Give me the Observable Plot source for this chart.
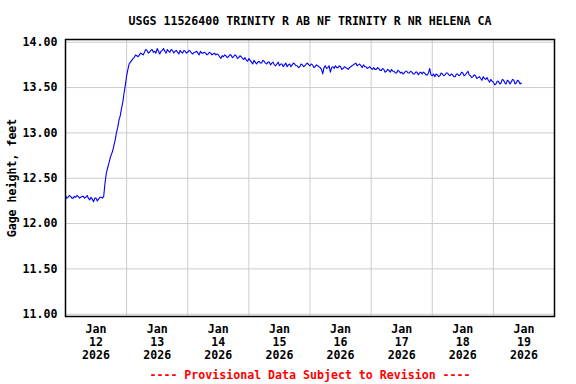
<!DOCTYPE html>
<html><head><meta charset="utf-8">
<script src="https://cdn.jsdelivr.net/npm/d3@7"></script>
<script src="https://cdn.jsdelivr.net/npm/@observablehq/plot@0.6"></script>
<style>body{margin:0;background:#fff} svg{display:block}</style>
</head><body><div id="chart"></div>
<script>
const title = "USGS 11526400 TRINITY R AB NF TRINITY R NR HELENA CA";
const yLabel = "Gage height, feet";
const footer = "---- Provisional Data Subject to Revision ----";
const seriesStart = "2026-01-12T00:00:00Z";
const stepHours = 0.5;
const gageHeight = [
  12.31,12.28,12.29,12.31,12.30,12.28,12.28,12.30,12.29,12.31,12.30,12.28,12.29,12.30,12.30,12.28,
  12.29,12.31,12.28,12.26,12.29,12.27,12.24,12.28,12.28,12.25,12.27,12.29,12.29,12.28,12.30,
  12.44,12.55,12.61,12.66,12.72,12.76,12.80,12.86,12.92,13.00,13.06,13.14,13.19,13.27,13.34,13.44,
  13.53,13.63,13.70,13.76,13.78,13.80,13.82,13.83,13.86,13.85,13.84,13.86,13.88,13.87,13.86,13.89,
  13.92,13.91,13.88,13.89,13.91,13.92,13.89,13.90,13.88,13.93,13.90,13.87,13.90,13.91,13.93,13.90,13.88,
  13.92,13.90,13.89,13.92,13.91,13.88,13.90,13.91,13.89,13.87,13.91,13.89,13.88,13.91,13.90,13.88,13.89,
  13.91,13.90,13.88,13.87,13.89,13.89,13.90,13.88,13.86,13.90,13.88,13.88,13.89,13.88,13.86,13.87,
  13.89,13.88,13.86,13.87,13.88,13.86,13.87,13.86,13.84,13.82,13.85,13.84,13.86,13.85,13.83,13.84,
  13.86,13.86,13.83,13.84,13.86,13.85,13.82,13.83,13.85,13.84,13.82,13.81,13.83,13.80,13.79,13.82,
  13.80,13.78,13.76,13.80,13.78,13.76,13.78,13.79,13.77,13.77,13.80,13.79,13.77,13.76,13.78,13.78,
  13.75,13.77,13.78,13.75,13.74,13.76,13.78,13.74,13.76,13.76,13.73,13.75,13.77,13.73,13.75,13.76,
  13.73,13.75,13.77,13.76,13.74,13.74,13.72,13.73,13.76,13.75,13.73,13.74,
  13.76,13.77,13.75,13.74,13.76,13.75,13.72,13.73,13.75,13.74,13.73,13.72,13.70,13.65,13.72,13.74,
  13.71,13.72,13.74,13.67,13.72,13.73,13.71,13.74,13.72,13.72,13.74,13.73,13.70,13.71,13.73,13.72,
  13.71,13.70,13.72,13.73,13.74,13.75,13.76,13.77,13.74,13.75,13.76,13.74,13.72,13.75,13.73,13.73,
  13.71,13.72,13.73,13.71,13.70,13.72,13.70,13.70,13.72,13.71,13.69,13.69,13.71,13.70,13.67,13.68,
  13.70,13.69,13.67,13.70,13.68,13.68,13.66,13.66,13.69,13.68,13.66,13.67,13.65,13.66,13.68,13.68,
  13.66,13.66,13.68,13.67,13.65,13.65,13.67,13.67,13.64,13.66,13.67,13.65,13.67,13.66,13.64,13.64,
  13.66,13.71,13.64,13.63,13.65,13.62,
  13.65,13.64,13.62,13.63,13.66,13.65,13.63,13.64,13.66,13.66,13.64,13.63,13.65,13.64,13.62,13.62,
  13.65,13.65,13.63,13.64,13.67,13.66,13.63,13.64,13.66,13.68,13.64,13.63,13.61,13.62,13.64,13.63,
  13.60,13.61,13.62,13.60,13.58,13.62,13.60,13.59,13.61,13.58,13.56,13.59,13.57,13.56,13.53,13.54,
  13.57,13.57,13.54,13.55,13.59,13.58,13.55,13.54,13.58,13.57,13.54,13.56,13.59,13.58,13.54,13.55,
  13.58,13.57,13.54,13.55
];
const yTicks = [11.0, 11.5, 12.0, 12.5, 13.0, 13.5, 14.0];
const dayLabelTimes = ["2026-01-12T12:00Z","2026-01-13T12:00Z","2026-01-14T12:00Z","2026-01-15T12:00Z","2026-01-16T12:00Z","2026-01-17T12:00Z","2026-01-18T12:00Z","2026-01-19T12:00Z"];
const dayBoundaries = ["2026-01-13T00:00Z","2026-01-14T00:00Z","2026-01-15T00:00Z","2026-01-16T00:00Z","2026-01-17T00:00Z","2026-01-18T00:00Z","2026-01-19T00:00Z"];
const xDomain = ["2026-01-12T00:00Z","2026-01-20T00:00Z"];
const yDomain = [10.975, 14.03];

const t0 = new Date(seriesStart).getTime();
const data = gageHeight.map((h, i) => ({date: new Date(t0 + i * stepHours * 3600e3), h}));
const font = "'DejaVu Sans Mono', 'Liberation Mono', monospace";
const fmtDay = d3.utcFormat("%b\n%-d\n%Y");

const chart = Plot.plot({
  width: 576, height: 384,
  marginLeft: 65, marginRight: 22, marginTop: 39, marginBottom: 68,
  style: {fontFamily: font, fontSize: "11.6px", fontWeight: "bold", color: "black", background: "white"},
  x: {type: "utc", domain: xDomain.map(d => new Date(d))},
  y: {domain: yDomain},
  marks: [
    Plot.gridX(dayBoundaries.map(d => new Date(d)), {stroke: "#cccccc", strokeOpacity: 1, strokeWidth: 1}),
    Plot.gridY(yTicks, {stroke: "#cccccc", strokeOpacity: 1, strokeWidth: 1}),
    Plot.lineY(data, {x: "date", y: "h", stroke: "#0000ff", strokeWidth: 1.1}),
    Plot.frame({stroke: "black", strokeWidth: 1.5}),
    Plot.axisX(dayLabelTimes.map(d => new Date(d)), {tickSize: 0, tickPadding: 7, tickFormat: fmtDay, lineHeight: 1.13, fill: "black", label: null}),
    Plot.axisY(yTicks, {tickSize: 0, tickPadding: 8, tickFormat: d3.format(".2f"), fill: "black", label: yLabel, labelAnchor: "center", labelArrow: "none", labelOffset: 58}),
    Plot.text([title], {text: d => d, frameAnchor: "top", lineAnchor: "middle", dy: -18.5, fontSize: 11.6, fontWeight: "bold", fill: "black"}),
    Plot.text([footer], {text: d => d, frameAnchor: "bottom", lineAnchor: "middle", dy: 59, fontSize: 11.6, fontWeight: "bold", fill: "#ff0000"})
  ]
});
document.getElementById("chart").append(chart);
</script>
</body></html>
